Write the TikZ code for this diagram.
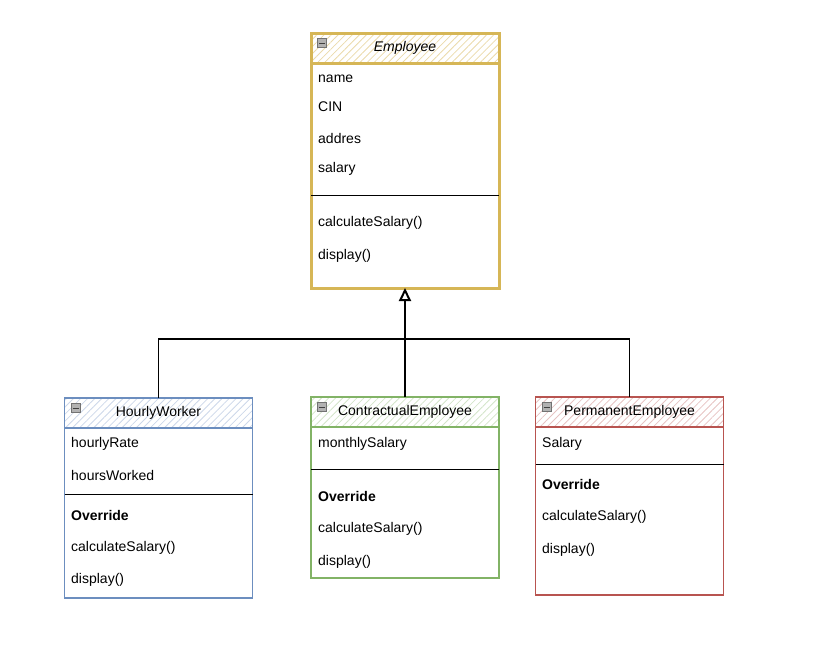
\documentclass[tikz,border=0pt]{standalone}
\usepackage{fontspec}
\setmainfont{Liberation Sans}
\usetikzlibrary{arrows.meta,patterns.meta}

\definecolor{empline}{HTML}{D6B656}
\definecolor{hwline}{HTML}{6C8EBF}
\definecolor{celine}{HTML}{82B366}
\definecolor{peline}{HTML}{B85450}

\tikzset{
  collapse/.pic={
    \draw[black!55, fill=black!30, line width=0.5pt] (-4.5,-4.5) rectangle (4.5,4.5);
    \draw[black!75, line width=1pt] (-3,0) -- (3,0);
  }
}

\begin{document}
\begin{tikzpicture}[x=1pt,y=-1pt,
    font=\fontsize{14}{16}\selectfont,
    header/.style={anchor=north, minimum width=188pt, minimum height=30pt,
      inner sep=0pt, outer sep=0pt,
      pattern={Lines[angle=45,distance=5pt,line width=0.8pt]}},
    classbox/.style={draw, anchor=north, minimum width=188pt,
      inner sep=0pt, outer sep=0pt},
    attr/.style={anchor=west, inner sep=0pt},
    sepline/.style={black, line width=1pt},
    link/.style={black, line width=1.2pt}]
  \useasboundingbox (0,0) rectangle (840,670);

  % Employee
  \node[header, pattern color=empline!50] (empH) at (405,33) {\textit{Employee}};
  \node[classbox, draw=empline, line width=3pt, minimum height=255pt] (emp) at (empH.north) {};
  \draw[empline, line width=3pt] (empH.south west) -- (empH.south east);
  \pic at ([xshift=11pt,yshift=-10pt]empH.north west) {collapse};
  \node[attr] at (318,79) {name};
  \node[attr] at (318,107) {CIN};
  \node[attr] at (318,138) {addres};
  \node[attr] at (318,169) {salary};
  \draw[sepline] (emp.west |- 0,195) -- (emp.east |- 0,195);
  \node[attr] at (318,223) {calculateSalary()};
  \node[attr] at (318,256) {display()};

  % HourlyWorker
  \node[header, pattern color=hwline!35] (hwH) at (158.5,398) {HourlyWorker};
  \node[classbox, draw=hwline, line width=1.3pt, minimum height=200pt] (hw) at (hwH.north) {};
  \draw[hwline, line width=1.3pt] (hwH.south west) -- (hwH.south east);
  \pic at ([xshift=11pt,yshift=-10pt]hwH.north west) {collapse};
  \node[attr] at (71,444) {hourlyRate};
  \node[attr] at (71,475) {hoursWorked};
  \draw[sepline] (hw.west |- 0,494) -- (hw.east |- 0,494);
  \node[attr] at (71,515) {\textbf{Override}};
  \node[attr] at (71,548) {calculateSalary()};
  \node[attr] at (71,580) {display()};

  % ContractualEmployee
  \node[header, pattern color=celine!35] (ceH) at (405,397) {ContractualEmployee};
  \node[classbox, draw=celine, line width=1.3pt, minimum height=181pt] (ce) at (ceH.north) {};
  \draw[celine, line width=1.3pt] (ceH.south west) -- (ceH.south east);
  \pic at ([xshift=11pt,yshift=-10pt]ceH.north west) {collapse};
  \node[attr] at (318,444) {monthlySalary};
  \draw[sepline] (ce.west |- 0,469) -- (ce.east |- 0,469);
  \node[attr] at (318,496) {\textbf{Override}};
  \node[attr] at (318,529) {calculateSalary()};
  \node[attr] at (318,562) {display()};

  % PermanentEmployee
  \node[header, pattern color=peline!35] (peH) at (629.5,397) {PermanentEmployee};
  \node[classbox, draw=peline, line width=1.3pt, minimum height=198pt] (pe) at (peH.north) {};
  \draw[peline, line width=1.3pt] (peH.south west) -- (peH.south east);
  \pic at ([xshift=11pt,yshift=-10pt]peH.north west) {collapse};
  \node[attr] at (542,444) {Salary};
  \draw[sepline] (pe.west |- 0,464) -- (pe.east |- 0,464);
  \node[attr] at (542,484) {\textbf{Override}};
  \node[attr] at (542,517) {calculateSalary()};
  \node[attr] at (542,550) {display()};

  % inheritance
  \coordinate (bar) at (405,339);
  \draw[link] (hw.north) |- (bar) -| (pe.north);
  \draw[link, -{Triangle[open, length=13pt, width=12pt, line width=2pt]}] (ce.north) -- (emp.south);
\end{tikzpicture}
\end{document}
